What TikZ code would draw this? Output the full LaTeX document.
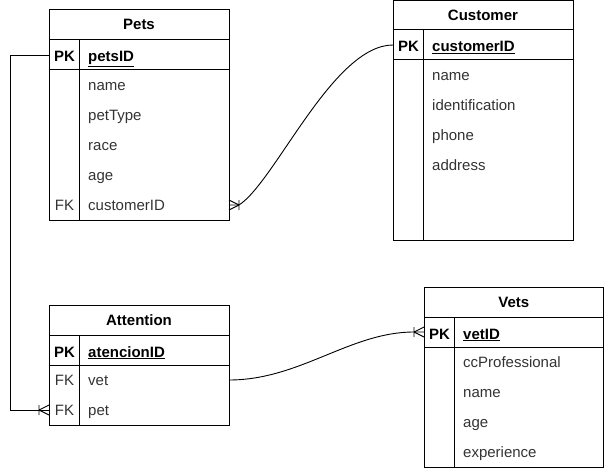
\documentclass[tikz,border=0pt]{standalone}
\usepackage{fontspec}
\setmainfont{Liberation Sans}
\usetikzlibrary{calc}
\tikzset{
  box/.style={draw=black, line width=1pt},
  conn/.style={draw=black, line width=0.9pt},
  ttl/.style={inner sep=0pt, anchor=base, font=\fontsize{15}{17}\selectfont\bfseries},
  keytag/.style={inner sep=0pt, anchor=base, font=\fontsize{15}{17}\selectfont\bfseries},
  fktag/.style={inner sep=0pt, anchor=base, text=black!80, font=\fontsize{15}{17}\selectfont},
  keyfld/.style={inner sep=0pt, anchor=base west, font=\fontsize{15}{17}\selectfont\bfseries},
  fld/.style={inner sep=0pt, anchor=base west, text=black!80, font=\fontsize{15}{17}\selectfont}
}
\newcommand\crowsfoot[2]{%
  \draw[conn] ($(#1)+(#2*10,0)$) -- ($(#1)+(0,-5)$)
              ($(#1)+(#2*10,0)$) -- ($(#1)+(0,5)$)
              ($(#1)+(#2*10,-5)$) -- ($(#1)+(#2*10,5)$);}
\begin{document}
\begin{tikzpicture}[x=1pt,y=-1pt]
\useasboundingbox (0,0) rectangle (605,468);
% ---------- Pets ----------
\draw[box] (49,10) rectangle (229,220);
\draw[box] (49,40) -- (229,40) (49,70) -- (229,70) (79,40) -- (79,220);
\node[ttl] (petsT) at (139,30) {Pets};
\node[keytag] (petsPKt) at (64.5,62) {PK};
\node[keyfld] (petsID) at (88,62) {\underline{petsID}};
\node[fld] (petsName) at (88,90.5) {name};
\node[fld] (petsType) at (88,120.5) {petType};
\node[fld] (petsRace) at (88,150.5) {race};
\node[fld] (petsAge) at (88,180.5) {age};
\node[fktag] (petsFK) at (64.5,210.5) {FK};
\node[fld] (petsCust) at (88,210.5) {customerID};
% ---------- Customer ----------
\draw[box] (393,1) rectangle (573,240);
\draw[box] (393,30) -- (573,30) (393,60) -- (573,60) (423,30) -- (423,240);
\node[ttl] (custT) at (483,21) {Customer};
\node[keytag] (custPKt) at (408.5,52) {PK};
\node[keyfld] (custID) at (432,52) {\underline{customerID}};
\node[fld] (custName) at (432,80.5) {name};
\node[fld] (custIdent) at (432,110.5) {identification};
\node[fld] (custPhone) at (432,140.5) {phone};
\node[fld] (custAddr) at (432,170.5) {address};
% ---------- Attention ----------
\draw[box] (49,305) rectangle (229,425);
\draw[box] (49,335) -- (229,335) (49,365) -- (229,365) (79,335) -- (79,425);
\node[ttl] (attT) at (139,325) {Attention};
\node[keytag] (attPKt) at (64.5,357) {PK};
\node[keyfld] (attID) at (88,357) {\underline{atencionID}};
\node[fktag] (attFK1) at (64.5,385.5) {FK};
\node[fld] (attVet) at (88,385.5) {vet};
\node[fktag] (attFK2) at (64.5,415.5) {FK};
\node[fld] (attPet) at (88,415.5) {pet};
% ---------- Vets ----------
\draw[box] (424,287) rectangle (603.5,467);
\draw[box] (424,317) -- (603.5,317) (424,347) -- (603.5,347) (454,317) -- (454,467);
\node[ttl] (vetsT) at (513.75,307) {Vets};
\node[keytag] (vetsPKt) at (439.5,339) {PK};
\node[keyfld] (vetID) at (463,339) {\underline{vetID}};
\node[fld] (vetCC) at (463,367.5) {ccProfessional};
\node[fld] (vetName) at (463,397.5) {name};
\node[fld] (vetAge) at (463,427.5) {age};
\node[fld] (vetExp) at (463,457.5) {experience};
% ---------- connection points ----------
\coordinate (pPK) at (49,55);
\coordinate (pFK) at (229,205);
\coordinate (cPK) at (393,45);
\coordinate (aVet) at (229,380);
\coordinate (aPet) at (49,410);
\coordinate (vPK) at (424,332);
\coordinate (bendA) at (10,55);
\coordinate (bendB) at (10,410);
% ---------- connectors ----------
\draw[conn] (pPK) -- (bendA) -- (bendB) -- (aPet);
\crowsfoot{aPet}{-1}
\draw[conn] (pFK) -- ($(pFK)+(10,0)$) .. controls (275,182) and (333,45) .. (cPK);
\crowsfoot{pFK}{1}
\draw[conn] (aVet) .. controls (300,380) and (350,332) .. ($(vPK)+(-10,0)$) -- (vPK);
\crowsfoot{vPK}{-1}
\end{tikzpicture}
\end{document}
